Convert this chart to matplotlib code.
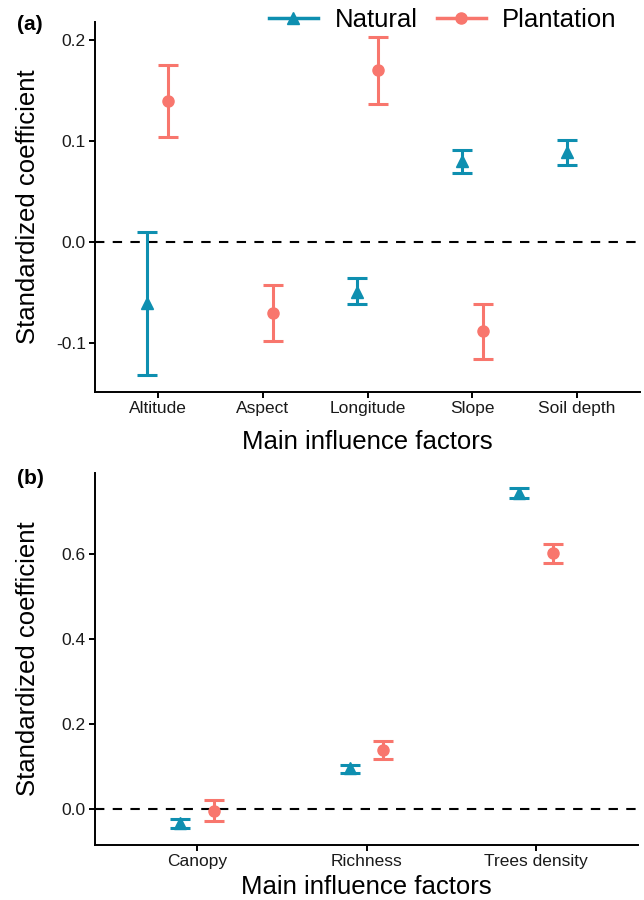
import matplotlib
matplotlib.use('Agg')
import matplotlib.pyplot as plt
import numpy as np
from matplotlib.lines import Line2D

plt.rcParams['font.family'] = ['Liberation Sans', 'DejaVu Sans']

# panel (a) - site factors
factors_a = ['Altitude', 'Aspect', 'Longitude', 'Slope', 'Soil depth']
nat_a = [-0.060, np.nan, -0.049, 0.080, 0.089]
nat_a_lo = [-0.132, np.nan, -0.061, 0.068, 0.076]
nat_a_hi = [0.010, np.nan, -0.036, 0.091, 0.101]
pla_a = [0.140, -0.070, 0.170, -0.088, np.nan]
pla_a_lo = [0.104, -0.098, 0.137, -0.116, np.nan]
pla_a_hi = [0.175, -0.043, 0.203, -0.061, np.nan]

# panel (b) - stand factors
factors_b = ['Canopy', 'Richness', 'Trees density']
nat_b = [-0.033, 0.096, 0.743]
nat_b_lo = [-0.045, 0.085, 0.731]
nat_b_hi = [-0.023, 0.105, 0.755]
pla_b = [-0.003, 0.139, 0.601]
pla_b_lo = [-0.028, 0.117, 0.579]
pla_b_hi = [0.022, 0.161, 0.624]

c_nat = '#0e8fb0'
c_pla = '#F8766D'
dodge = 0.1


def draw(ax, factors, groups, ylim, yticks):
    x = np.arange(len(factors))
    for off, (est, lo, hi, col, mk, ms) in zip([-dodge, dodge], groups):
        est = np.array(est); lo = np.array(lo); hi = np.array(hi)
        ax.errorbar(x + off, est, yerr=[est - lo, hi - est], fmt=mk, color=col,
                    ecolor=col, elinewidth=2.2, capsize=7.5, capthick=2.2,
                    markersize=ms, zorder=3)
    ax.axhline(0, color='black', lw=1.5, ls=(0, (4.5, 4)), zorder=1)
    ax.set_xlim(-0.6, len(factors) - 0.4)
    ax.set_ylim(*ylim)
    ax.set_xticks(x)
    ax.set_xticklabels(factors, fontsize=12.5, color='#1a1a1a')
    ax.set_yticks(yticks)
    ax.set_yticklabels(['%.1f' % t for t in yticks], fontsize=12.5, color='#1a1a1a')
    for s in ['top', 'right']:
        ax.spines[s].set_visible(False)
    for s in ['left', 'bottom']:
        ax.spines[s].set_linewidth(1.4)
    ax.tick_params(length=4.5, width=1.4, pad=2)
    ax.set_xlabel('Main influence factors', fontsize=18.5, va='center')
    ax.set_ylabel('Standardized coefficient', fontsize=18.5, va='center')


fig = plt.figure(figsize=(6.44, 9.0), dpi=100)

ax1 = fig.add_axes([95/644, 1 - 392/900, 545/644, 370/900])
draw(ax1, factors_a,
     [(nat_a, nat_a_lo, nat_a_hi, c_nat, '^', 8.5), (pla_a, pla_a_lo, pla_a_hi, c_pla, 'o', 8)],
     (-0.1485, 0.218), [-0.1, 0.0, 0.1, 0.2])
ax1.xaxis.set_label_coords(0.5, -50/370)
ax1.yaxis.set_label_coords(-67/545, 0.5)

ax2 = fig.add_axes([95/644, 1 - 845/900, 543/644, 372/900])
draw(ax2, factors_b,
     [(nat_b, nat_b_lo, nat_b_hi, c_nat, '^', 8.5), (pla_b, pla_b_lo, pla_b_hi, c_pla, 'o', 8)],
     (-0.084, 0.79), [0.0, 0.2, 0.4, 0.6])
ax2.xaxis.set_label_coords(0.5, -42/372)
ax2.yaxis.set_label_coords(-67/543, 0.5)

fig.text(30/644, 1 - 24/900, '(a)', fontsize=15, fontweight='bold', ha='center', va='center')
fig.text(30/644, 1 - 478/900, '(b)', fontsize=15, fontweight='bold', ha='center', va='center')

handles = [Line2D([0], [0], color=c_nat, lw=2.5, marker='^', markersize=9),
           Line2D([0], [0], color=c_pla, lw=2.5, marker='o', markersize=8)]
fig.legend(handles, ['Natural', 'Plantation'], loc='center left',
           bbox_to_anchor=(269/644, 1 - 20/900), ncol=2, frameon=False,
           fontsize=18.5, handlelength=1.9, handletextpad=0.65,
           columnspacing=0.75, borderpad=0, borderaxespad=0)

fig.savefig('out.png', dpi=100)
